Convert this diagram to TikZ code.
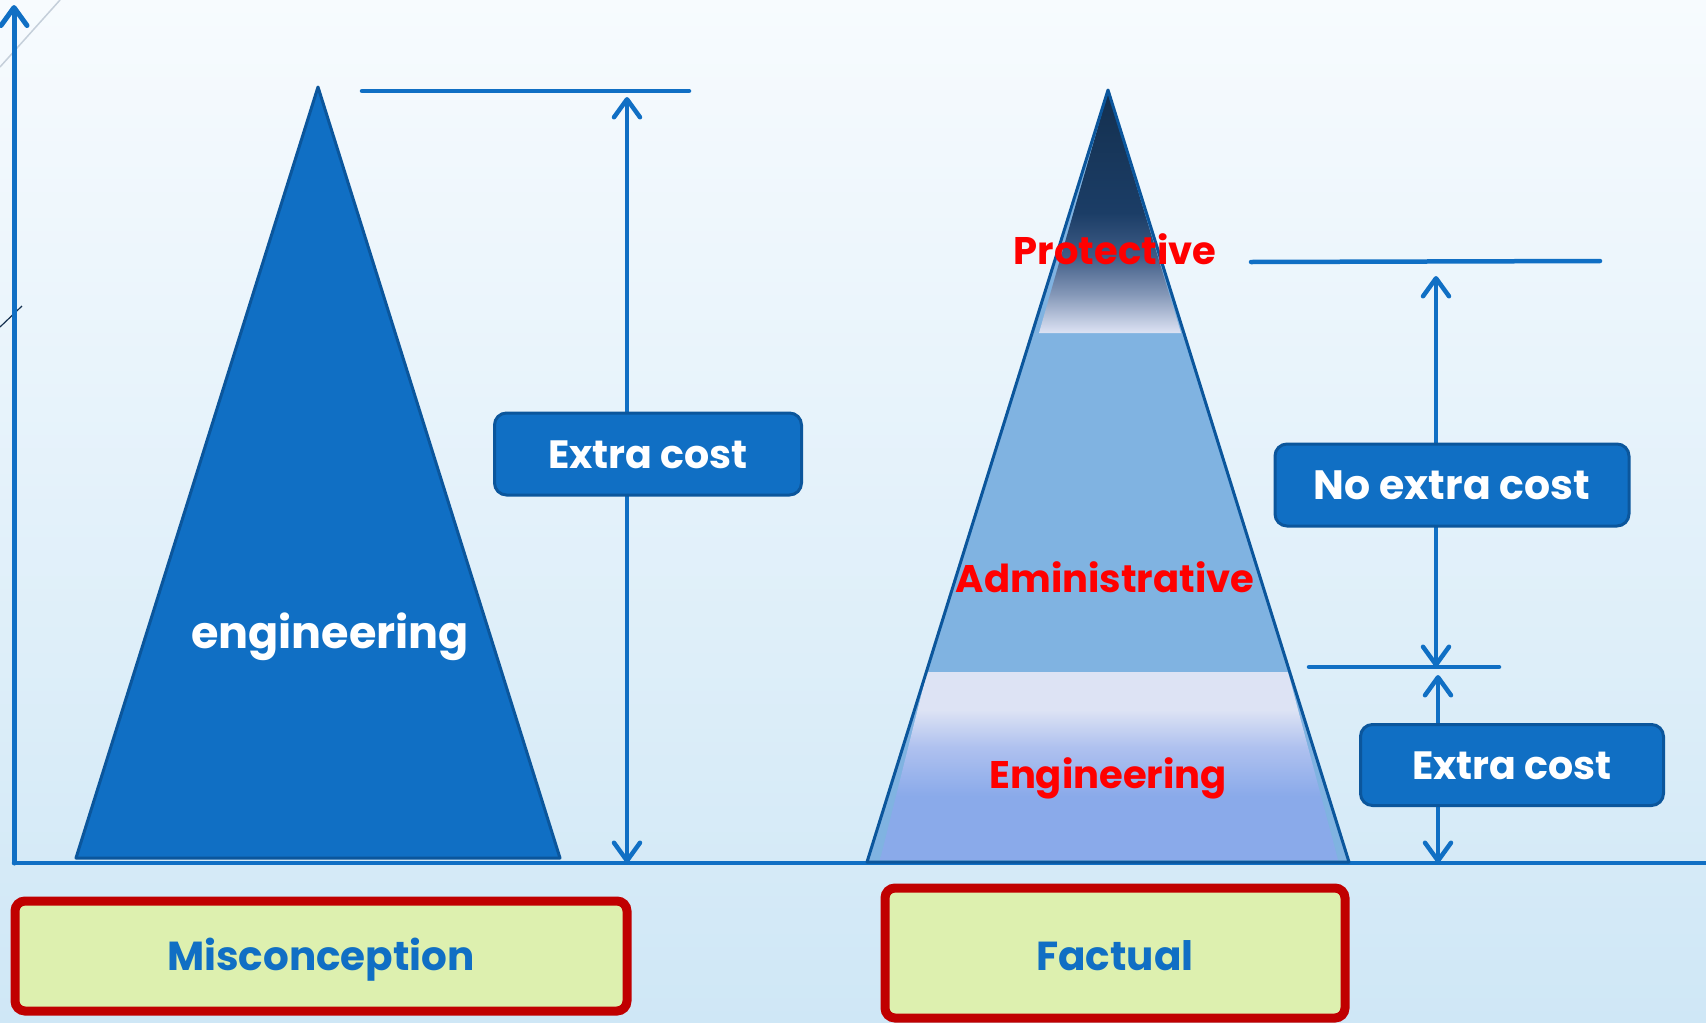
\documentclass[tikz,border=0pt]{standalone}
\usepackage{fontspec}
\setmainfont{Poppins}
\usetikzlibrary{arrows.meta}
\definecolor{bgtop}{HTML}{F7FBFE}
\definecolor{bgbot}{HTML}{CFE7F6}
\definecolor{mainblue}{HTML}{106FC4}
\definecolor{edgeblue}{HTML}{0B569C}
\definecolor{lightblue}{HTML}{80B3E1}
\definecolor{navy}{HTML}{14304F}
\definecolor{navytwo}{HTML}{1B3D66}
\definecolor{protmidA}{HTML}{3F5C86}
\definecolor{protmidB}{HTML}{8598B8}
\definecolor{paleband}{HTML}{DDE3F4}
\definecolor{engmid}{HTML}{AFC1EF}
\definecolor{engbot}{HTML}{8AAAEA}
\definecolor{boxred}{HTML}{C00000}
\definecolor{boxfill}{HTML}{DDF0AF}
\definecolor{labred}{HTML}{FF0000}
\definecolor{artgray}{HTML}{C5CFDA}
\pgfdeclareverticalshading{protshade}{100bp}{color(0bp)=(paleband); color(25bp)=(paleband); color(33bp)=(protmidB); color(41bp)=(protmidA); color(50bp)=(navytwo); color(75bp)=(navy); color(100bp)=(navy)}
\pgfdeclareverticalshading{engshade}{100bp}{color(0bp)=(engbot); color(25bp)=(engbot); color(42bp)=(engbot); color(55bp)=(engmid); color(65bp)=(paleband); color(100bp)=(paleband)}
\tikzset{
  dimline/.style={draw=mainblue, line width=4.5pt, line cap=round},
  barb/.style={dimline, {Straight Barb[length=18pt,width=26pt,round]}-{Straight Barb[length=18pt,width=26pt,round]}},
  bluebox/.style={fill=mainblue, draw=edgeblue, line width=3pt, rounded corners=12pt, text=white, inner sep=0pt, text height=28pt, text depth=0pt},
  redlabel/.style={text=labred, inner sep=0pt, font=\bfseries\fontsize{38.5}{42}\selectfont},
  redbox/.style={fill=boxfill, draw=boxred, line width=9pt, rounded corners=10pt, text=mainblue, inner sep=0pt, text height=28pt, text depth=0pt, font=\bfseries\fontsize{40.5}{44}\selectfont},
  tri/.style={draw=edgeblue, line width=3pt, line join=round}
}
\begin{document}
\begin{tikzpicture}[x=1pt,y=-1pt]
\shade[top color=bgtop, bottom color=bgbot] (0,0) rectangle (1706,1023);
\useasboundingbox (0,0) rectangle (1706,1023);
% slide artefacts
\draw[artgray, line width=1.5pt] (0,67) -- (60,0);
\draw[navy, line width=1.2pt] (0,327) -- (22,306);
% axes
\coordinate (O) at (14,863);
\coordinate (Ytop) at (14,5);
\coordinate (Xend) at (1706,863);
\draw[dimline, line width=5pt, -{Straight Barb[length=18pt,width=26pt,round]}] (O) -- (Ytop);
\draw[dimline, line width=4.5pt] (O) -- (Xend);
% left pyramid
\coordinate (LA) at (318,87);
\coordinate (LR) at (560,858);
\coordinate (LL) at (76,858);
\filldraw[tri, fill=mainblue] (LA) -- (LR) -- (LL) -- cycle;
\node[text=white, inner sep=0pt, font=\bfseries\fontsize{44.5}{48}\selectfont] (engl) at (330,637) {engineering};
% right pyramid
\coordinate (RA) at (1108,90);
\coordinate (RR) at (1349,862);
\coordinate (RL) at (867,862);
\fill[lightblue] (RA) -- (RR) -- (RL) -- cycle;
\shade[shading=protshade] (1108,92) -- (1181,333) -- (1039,333) -- cycle;
\shade[shading=engshade] (927,672) -- (1288,672) -- (1338,860) -- (880,860) -- cycle;
\draw[tri] (RA) -- (RR) -- (RL) -- cycle;
\node[redlabel] (prot) at (1115,249) {Protective};
\node[redlabel] (admin) at (1105,577) {Administrative};
\node[redlabel] (engr) at (1108,778) {Engineering};
% left dimension
\coordinate (t1a) at (362,91);
\coordinate (t1b) at (689,91);
\draw[dimline] (t1a) -- (t1b);
\coordinate (a1t) at (627,97);
\coordinate (a1b) at (627,863);
\draw[barb] (a1b) -- (a1t);
\node[bluebox, font=\bfseries\fontsize{39.5}{42}\selectfont, minimum width=307pt, minimum height=82pt] (ec1) at (648,454) {Extra cost};
% right dimensions
\coordinate (t2a) at (1251,262);
\coordinate (t2b) at (1600,261);
\draw[dimline] (t2a) -- (t2b);
\coordinate (t3a) at (1309,667);
\coordinate (t3b) at (1499,667);
\draw[dimline] (t3a) -- (t3b);
\coordinate (a2t) at (1436,276);
\coordinate (a2b) at (1436,667);
\draw[barb] (a2b) -- (a2t);
\coordinate (a3t) at (1438,675);
\coordinate (a3b) at (1438,863);
\draw[barb] (a3b) -- (a3t);
\node[bluebox, font=\bfseries\fontsize{41}{44}\selectfont, minimum width=354pt, minimum height=82pt] (nec) at (1452,485) {No extra cost};
\node[bluebox, font=\bfseries\fontsize{39.5}{42}\selectfont, minimum width=303pt, minimum height=81pt] (ec2) at (1512,765) {Extra cost};
% bottom labels
\node[redbox, minimum width=612pt, minimum height=110pt] (mis) at (321,956) {Misconception};
\node[redbox, minimum width=460pt, minimum height=130pt, text height=34pt] (fac) at (1115,953) {Factual};
\end{tikzpicture}
\end{document}
